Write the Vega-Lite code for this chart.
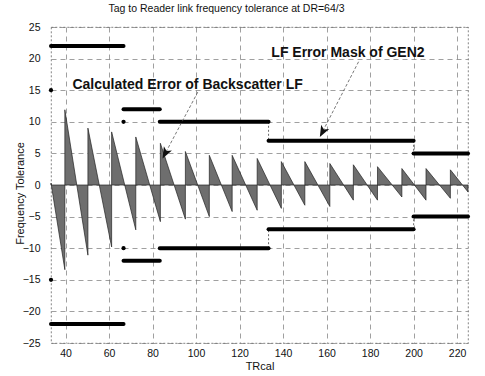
{
  "$schema": "https://vega.github.io/schema/vega-lite/v6.json",
  "autosize": "none",
  "width": 417,
  "height": 316,
  "padding": {"left": 51, "top": 27, "right": 17, "bottom": 33},
  "background": "white",
  "title": {"text": "Tag to Reader link frequency tolerance at DR=64/3", "font": "Liberation Sans", "fontSize": 10.5, "fontWeight": "normal", "color": "#111", "dx": -33, "offset": 8},
  "config": {
    "view": {"stroke": "#666", "strokeWidth": 0.8, "strokeDash": [2, 2]},
    "axis": {
      "labelFont": "Liberation Sans", "labelFontSize": 10.5, "labelColor": "#111",
      "titleFont": "Liberation Sans", "titleFontSize": 11, "titleFontWeight": "normal", "titleColor": "#111",
      "domain": false, "ticks": false,
      "grid": true, "gridColor": "#777", "gridDash": [5, 4], "gridWidth": 0.7, "gridOpacity": 1
    }
  },
  "datasets": {
    "saw": [
      {"seg": 0, "x": 33.33, "e": 0.3}, {"seg": 0, "x": 39.7, "e": -13.4},
      {"seg": 1, "x": 39.7, "e": 11.9}, {"seg": 1, "x": 50.3, "e": -11.1},
      {"seg": 2, "x": 50.3, "e": 9.0}, {"seg": 2, "x": 61.2, "e": -9.8},
      {"seg": 3, "x": 61.2, "e": 8.4}, {"seg": 3, "x": 72.3, "e": -7.1},
      {"seg": 4, "x": 72.3, "e": 7.6}, {"seg": 4, "x": 83.6, "e": -5.8},
      {"seg": 5, "x": 83.6, "e": 6.6}, {"seg": 5, "x": 95.1, "e": -5.4},
      {"seg": 6, "x": 95.1, "e": 5.3}, {"seg": 6, "x": 106.1, "e": -5.0},
      {"seg": 7, "x": 106.1, "e": 4.7}, {"seg": 7, "x": 116.6, "e": -4.2},
      {"seg": 8, "x": 116.6, "e": 4.7}, {"seg": 8, "x": 128.1, "e": -4.0},
      {"seg": 9, "x": 128.1, "e": 4.2}, {"seg": 9, "x": 139.2, "e": -3.7},
      {"seg": 10, "x": 139.2, "e": 3.7}, {"seg": 10, "x": 150.0, "e": -3.2},
      {"seg": 11, "x": 150.0, "e": 3.7}, {"seg": 11, "x": 161.5, "e": -3.4},
      {"seg": 12, "x": 161.5, "e": 3.4}, {"seg": 12, "x": 172.3, "e": -2.4},
      {"seg": 13, "x": 172.3, "e": 3.2}, {"seg": 13, "x": 183.4, "e": -2.4},
      {"seg": 14, "x": 183.4, "e": 2.9}, {"seg": 14, "x": 194.6, "e": -1.9},
      {"seg": 15, "x": 194.6, "e": 2.6}, {"seg": 15, "x": 205.7, "e": -2.4},
      {"seg": 16, "x": 205.7, "e": 2.6}, {"seg": 16, "x": 216.9, "e": -2.1},
      {"seg": 17, "x": 216.9, "e": 2.4}, {"seg": 17, "x": 225, "e": -1.1}
    ],
    "mask": [
      {"x": 33.33, "x2": 66.67, "y": 22}, {"x": 33.33, "x2": 66.67, "y": -22},
      {"x": 66.67, "x2": 83.33, "y": 12}, {"x": 66.67, "x2": 83.33, "y": -12},
      {"x": 83.33, "x2": 133.33, "y": 10}, {"x": 83.33, "x2": 133.33, "y": -10},
      {"x": 133.33, "x2": 200, "y": 7}, {"x": 133.33, "x2": 200, "y": -7},
      {"x": 200, "x2": 225, "y": 5}, {"x": 200, "x2": 225, "y": -5}
    ],
    "conn": [
      {"x": 133.33, "y": 10, "y2": 7}, {"x": 133.33, "y": -10, "y2": -7},
      {"x": 200, "y": 7, "y2": 5}, {"x": 200, "y": -7, "y2": -5}
    ],
    "dots": [
      {"x": 33.33, "y": 15}, {"x": 33.33, "y": -15},
      {"x": 66.67, "y": 10}, {"x": 66.67, "y": -10}
    ],
    "notes": [
      {"x": 134.6, "y": 20.9, "text": "LF Error Mask of GEN2"},
      {"x": 43.2, "y": 15.8, "text": "Calculated Error of Backscatter LF"}
    ],
    "arrows": [
      {"x": 100.8, "y": 14.7, "x2": 84.6, "y2": 4.2},
      {"x": 174.7, "y": 19.5, "x2": 156.9, "y2": 7.6}
    ]
  },
  "layer": [
    {
      "data": {"name": "saw"},
      "mark": {"type": "area", "fill": "#6e6e6e", "stroke": "#222", "strokeWidth": 0.7, "interpolate": "linear"},
      "encoding": {
        "x": {"field": "x", "type": "quantitative", "scale": {"domain": [33.33, 225], "nice": false, "zero": false},
              "axis": {"values": [40, 60, 80, 100, 120, 140, 160, 180, 200, 220], "tickCount": 12, "title": "TRcal", "labelPadding": 5, "titlePadding": 2, "labelOverlap": false}},
        "y": {"field": "e", "type": "quantitative", "scale": {"domain": [-25, 25], "nice": false},
              "axis": {"values": [-25, -20, -15, -10, -5, 0, 5, 10, 15, 20, 25], "tickCount": 12, "title": "Frequency Tolerance", "labelPadding": 11, "titleX": -28, "titleY": 166, "titleBaseline": "alphabetic", "labelOverlap": false}},
        "y2": {"datum": 0},
        "detail": {"field": "seg"}
      }
    },
    {
      "mark": {"type": "rule", "color": "#333", "strokeWidth": 0.8},
      "encoding": {"y": {"datum": 0}}
    },
    {
      "data": {"name": "conn"},
      "mark": {"type": "rule", "color": "#444", "strokeWidth": 0.8, "strokeDash": [2, 2]},
      "encoding": {"x": {"field": "x", "type": "quantitative"}, "y": {"field": "y", "type": "quantitative"}, "y2": {"field": "y2"}}
    },
    {
      "data": {"name": "mask"},
      "mark": {"type": "rule", "color": "#000", "strokeWidth": 4, "strokeCap": "round"},
      "encoding": {"x": {"field": "x", "type": "quantitative"}, "x2": {"field": "x2"}, "y": {"field": "y", "type": "quantitative"}}
    },
    {
      "data": {"name": "dots"},
      "mark": {"type": "point", "filled": true, "color": "#000", "size": 18, "opacity": 1},
      "encoding": {"x": {"field": "x", "type": "quantitative"}, "y": {"field": "y", "type": "quantitative"}}
    },
    {
      "data": {"name": "arrows"},
      "mark": {"type": "rule", "color": "#555", "strokeWidth": 0.8, "strokeDash": [3, 2]},
      "encoding": {"x": {"field": "x", "type": "quantitative"}, "y": {"field": "y", "type": "quantitative"}, "x2": {"field": "x2"}, "y2": {"field": "y2"}}
    },
    {
      "data": {"name": "arrows"},
      "mark": {"type": "point", "filled": true, "color": "#111", "opacity": 1, "size": 520, "angle": 208, "shape": "M0,0L0.4,1L0,0.75L-0.4,1Z"},
      "encoding": {"x": {"field": "x2", "type": "quantitative"}, "y": {"field": "y2", "type": "quantitative"}}
    },
    {
      "data": {"name": "notes"},
      "mark": {"type": "text", "font": "Liberation Sans", "fontSize": 14, "fontWeight": "bold", "color": "#111", "align": "left", "baseline": "middle"},
      "encoding": {"x": {"field": "x", "type": "quantitative"}, "y": {"field": "y", "type": "quantitative"}, "text": {"field": "text"}}
    }
  ]
}
